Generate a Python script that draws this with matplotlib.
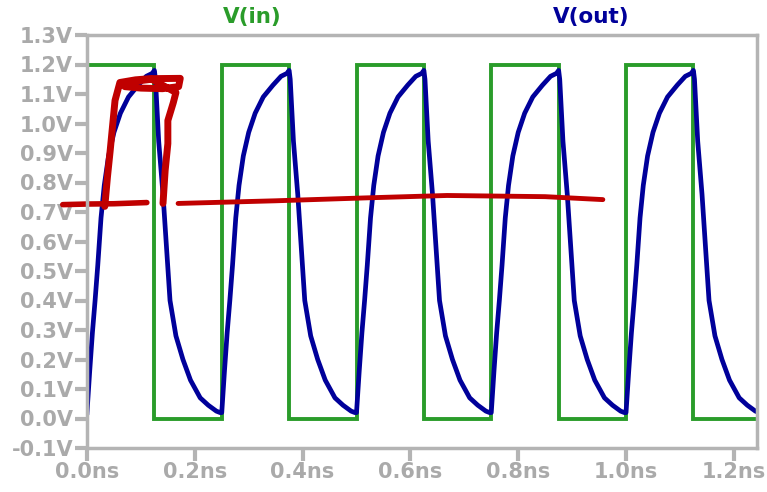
import numpy as np
from matplotlib import pyplot as plt

# one period of each trace (ns, V)
period = 0.25
n_periods = 5
t_in = [0.0, 0.0, 0.125, 0.125, 0.25]
v_in = [0.0, 1.2, 1.2, 0.0, 0.0]
t_out = [0.0, 0.005, 0.010, 0.015, 0.020, 0.026, 0.032, 0.040, 0.050, 0.062,
         0.077, 0.095, 0.110, 0.121, 0.125, 0.127, 0.133, 0.141, 0.154, 0.165,
         0.178, 0.192, 0.210, 0.225, 0.240, 0.247, 0.25]
v_out = [0.02, 0.16, 0.29, 0.40, 0.52, 0.68, 0.79, 0.89, 0.97, 1.035,
         1.09, 1.13, 1.16, 1.17, 1.18, 1.15, 0.94, 0.76, 0.40, 0.28,
         0.20, 0.13, 0.07, 0.045, 0.025, 0.02, 0.02]

# hand-drawn red marks (ns, V)
red_h1_t = [-0.045, 0.0, 0.05, 0.111]
red_h1_v = [0.725, 0.727, 0.728, 0.732]
red_h2_t = [0.169, 0.35, 0.52, 0.668, 0.85, 0.957]
red_h2_v = [0.729, 0.738, 0.748, 0.756, 0.752, 0.742]
red_loop_t = [0.033, 0.038, 0.043, 0.052, 0.061, 0.09, 0.117, 0.173, 0.17,
              0.14, 0.10, 0.07, 0.075, 0.12, 0.165, 0.16, 0.150, 0.150,
              0.145, 0.141]
red_loop_v = [0.719, 0.82, 0.908, 1.078, 1.139, 1.148, 1.152, 1.153, 1.125,
              1.118, 1.12, 1.125, 1.14, 1.15, 1.105, 1.07, 1.010, 0.932,
              0.841, 0.729]

tin_all, vin_all, tout_all, vout_all = [], [], [], []
for k in range(n_periods):
    tin_all += [t + k * period for t in t_in]
    vin_all += v_in
    tout_all += [t + k * period for t in t_out]
    vout_all += v_out

gray = "#b4b4b4"
fig = plt.figure(figsize=(7.67, 4.92), dpi=100)
ax = fig.add_axes([87 / 767, 44 / 492, 670 / 767, 413 / 492])

ax.plot(tin_all, vin_all, color="#2a9c2a", lw=2.8, solid_joinstyle="miter")
ax.plot(tout_all, vout_all, color="#00009a", lw=3.4)
ax.plot(red_h1_t, red_h1_v, color="#c00000", lw=4, solid_capstyle="round", clip_on=False)
ax.plot(red_h2_t, red_h2_v, color="#c00000", lw=3.5, solid_capstyle="round")
ax.plot(red_loop_t, red_loop_v, color="#c00000", lw=5, solid_capstyle="round",
        solid_joinstyle="round")

ax.set_xlim(0, 1.243)
ax.set_ylim(-0.1, 1.3)
yt = np.round(np.arange(-0.1, 1.31, 0.1), 1)
ax.set_yticks(yt)
ax.set_yticklabels([f"{v:.1f}V" for v in yt])
xt = [0.0, 0.2, 0.4, 0.6, 0.8, 1.0, 1.2]
ax.set_xticks(xt)
ax.set_xticklabels([f"{v:.1f}ns" for v in xt])

for s in ax.spines.values():
    s.set_color(gray)
    s.set_linewidth(2.5)
ax.tick_params(colors=gray, width=3, length=9, labelsize=15, pad=1)
for lab in ax.get_xticklabels() + ax.get_yticklabels():
    lab.set_fontweight("bold")
    lab.set_color("#aaaaaa")

fig.text(252 / 767, 1 - 17 / 492, "V(in)", color="#2a9c2a", fontsize=15.5,
         fontweight="bold", ha="center", va="center")
fig.text(591 / 767, 1 - 17 / 492, "V(out)", color="#00009a", fontsize=15.5,
         fontweight="bold", ha="center", va="center")

fig.savefig("out.png", dpi=100)
